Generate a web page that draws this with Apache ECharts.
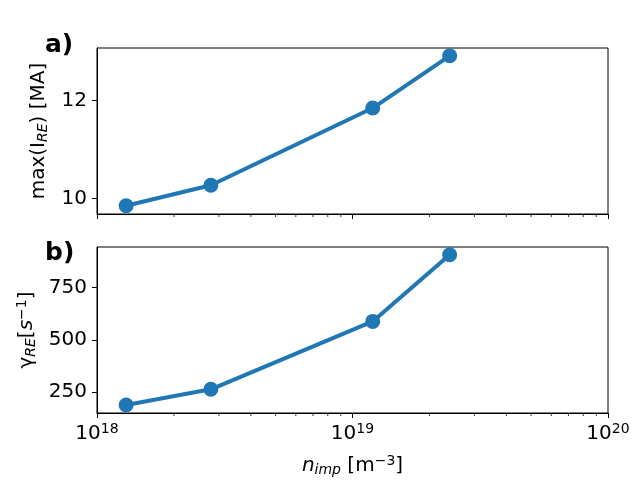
<!DOCTYPE html>
<html>
<head>
<meta charset="utf-8">
<script src="https://cdn.jsdelivr.net/npm/echarts@6/dist/echarts.min.js"></script>
<style>
  html, body { margin: 0; padding: 0; background: #fff; }
  #main { width: 640px; height: 480px; }
</style>
</head>
<body>
<div id="main"></div>
<script>
// values
const nImp = [1.30e18, 2.79e18, 1.20e19, 2.40e19];
const maxIre = [9.85, 10.27, 11.85, 12.92];
const gammaRe = [189, 264, 588, 906];
const xTicks = [1e18, 1e19, 1e20];
const minorTicks = [2e18, 3e18, 4e18, 5e18, 6e18, 7e18, 8e18, 9e18,
                    2e19, 3e19, 4e19, 5e19, 6e19, 7e19, 8e19, 9e19];
const topTicks = [10, 12];
const bottomTicks = [250, 500, 750];

const FONT = 'DejaVu Sans';
const BLUE = '#1f77b4';
const FS = 20;
const SFS = 14;

const chart = echarts.init(document.getElementById('main'));

function minorSeries (idx, yMin) {
  return {
    type: 'custom',
    xAxisIndex: idx,
    yAxisIndex: idx,
    clip: false,
    silent: true,
    data: minorTicks.map(v => [v, yMin]),
    renderItem: (params, api) => {
      const p = api.coord([api.value(0), api.value(1)]);
      return {
        type: 'line',
        shape: { x1: p[0], y1: p[1], x2: p[0], y2: p[1] + 3 },
        style: { stroke: '#000', lineWidth: 0.8 }
      };
    }
  };
}

const xAxisBase = {
  type: 'log',
  logBase: 10,
  min: 1e18,
  max: 1e20,
  axisLine: { show: true, onZero: false, lineStyle: { color: '#000', width: 1 } },
  axisTick: { show: true, customValues: xTicks, length: 5, lineStyle: { color: '#000', width: 1 } },
  splitLine: { show: false }
};

const yAxisBase = {
  type: 'value',
  axisLine: { show: true, lineStyle: { color: '#000', width: 1 } },
  axisTick: { show: true, length: 5, lineStyle: { color: '#000', width: 1 } },
  splitLine: { show: false },
  nameLocation: 'middle',
  nameTextStyle: { fontFamily: FONT, fontSize: FS, color: '#000' }
};

const richText = {
  it: { fontFamily: FONT, fontSize: FS, fontStyle: 'italic', color: '#000' },
  sub: { fontFamily: FONT, fontSize: SFS, fontStyle: 'italic', color: '#000', padding: [9, 0, 0, 0] },
  sup: { fontFamily: FONT, fontSize: SFS, color: '#000', padding: [0, 0, 9, 0] }
};

chart.setOption({
  animation: false,
  backgroundColor: '#fff',
  textStyle: { fontFamily: FONT },
  grid: [
    { left: 97, right: 32, top: 48, height: 166, show: true, borderColor: '#000', borderWidth: 1 },
    { left: 97, right: 32, top: 247, height: 166, show: true, borderColor: '#000', borderWidth: 1 }
  ],
  xAxis: [
    Object.assign({}, xAxisBase, { gridIndex: 0, axisLabel: { show: false } }),
    Object.assign({}, xAxisBase, {
      gridIndex: 1,
      name: '{it|n}{sub|imp} [m{sup|−3}]',
      nameLocation: 'middle',
      nameGap: 41,
      nameTextStyle: { fontFamily: FONT, fontSize: FS, color: '#000', rich: richText },
      axisLabel: {
        show: true,
        customValues: xTicks,
        margin: 9,
        showMinLabel: true,
        showMaxLabel: true,
        formatter: v => '{b|10}{s|' + Math.round(Math.log10(v)) + '}',
        rich: {
          b: { fontFamily: FONT, fontSize: FS, color: '#000' },
          s: { fontFamily: FONT, fontSize: SFS, color: '#000', padding: [0, 0, 10, 0] }
        }
      }
    })
  ],
  yAxis: [
    Object.assign({}, yAxisBase, {
      gridIndex: 0,
      min: 9.68,
      max: 13.08,
      name: 'max(I{sub|RE}) [MA]',
      nameGap: 44,
      nameTextStyle: Object.assign({}, yAxisBase.nameTextStyle, { rich: richText }),
      axisTick: Object.assign({}, yAxisBase.axisTick, { customValues: topTicks }),
      axisLabel: { customValues: topTicks, fontFamily: FONT, fontSize: FS, color: '#000', margin: 10 }
    }),
    Object.assign({}, yAxisBase, {
      gridIndex: 1,
      min: 151,
      max: 943,
      name: 'γ{sub|RE}[{it|s}{sup|−1}]',
      nameGap: 57,
      nameTextStyle: Object.assign({}, yAxisBase.nameTextStyle, { rich: richText }),
      axisTick: Object.assign({}, yAxisBase.axisTick, { customValues: bottomTicks }),
      axisLabel: { customValues: bottomTicks, fontFamily: FONT, fontSize: FS, color: '#000', margin: 10 }
    })
  ],
  graphic: [
    { type: 'text', left: 45, top: 33, style: { text: 'a)', font: 'bold 25px "DejaVu Sans"', fill: '#000' } },
    { type: 'text', left: 45, top: 241, style: { text: 'b)', font: 'bold 25px "DejaVu Sans"', fill: '#000' } }
  ],
  series: [
    {
      type: 'line',
      xAxisIndex: 0,
      yAxisIndex: 0,
      data: nImp.map((x, i) => [x, maxIre[i]]),
      symbol: 'circle',
      symbolSize: 15,
      lineStyle: { color: BLUE, width: 4 },
      itemStyle: { color: BLUE }
    },
    {
      type: 'line',
      xAxisIndex: 1,
      yAxisIndex: 1,
      data: nImp.map((x, i) => [x, gammaRe[i]]),
      symbol: 'circle',
      symbolSize: 15,
      lineStyle: { color: BLUE, width: 4 },
      itemStyle: { color: BLUE }
    },
    minorSeries(0, 9.68),
    minorSeries(1, 151)
  ]
});
</script>
</body>
</html>
